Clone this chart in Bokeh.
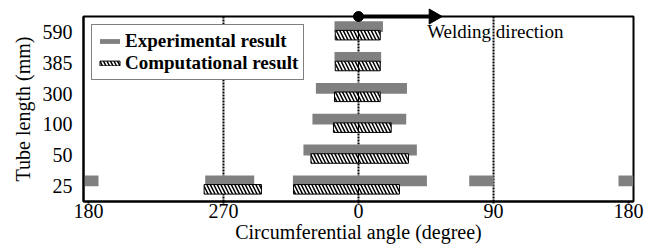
import math
from bokeh.plotting import figure
from bokeh.models import (Range1d, FixedTicker, Span, Label, Legend, LegendItem, ColumnDataSource)
from bokeh.embed import file_html
from bokeh.resources import INLINE

# ---- data ----
lengths = ["25", "50", "100", "300", "385", "590"]          # tube length (mm)
exp_neg = [-43.7, -36.7, -30.7, -28.4, -16.0, -16.0]          # experimental, left extent (deg)
exp_pos = [45.6, 38.9, 31.8, 32.3, 15.1, 16.3]                # experimental, right extent (deg)
comp_neg = [-43.3, -31.7, -16.7, -16.0, -15.5, -15.5]         # computational, left extent
comp_pos = [27.3, 33.3, 21.8, 14.5, 14.5, 14.5]               # computational, right extent

# additional separate zones (tube length, start, end); end > 180 wraps past 180
exp_extra_len = ["25", "25", "25"]
exp_extra_start = [-102.2, 73.8, 173.3]
exp_extra_end = [-69.5, 90.0, 186.7]
comp_extra_len = ["25"]
comp_extra_start = [-102.9]
comp_extra_end = [-64.7]

angle_ticks = [-180, -90, 0, 90, 180]
angle_labels = ["180", "270", "0", "90", "180"]
ref_angles = [-90, 0, 90]
weld_start = 0
weld_end = 50

# ---- build sources ----
ypos = {name: i + 0.5 for i, name in enumerate(lengths)}
EXP_OFF, EXP_H = 0.17, 0.35
COMP_OFF, COMP_H = -0.105, 0.31

ex = dict(y=[], left=[], right=[])
for name, a, b in zip(lengths, exp_neg, exp_pos):
    ex["y"].append(ypos[name] + EXP_OFF); ex["left"].append(a); ex["right"].append(b)
for name, a, b in zip(exp_extra_len, exp_extra_start, exp_extra_end):
    ex["y"].append(ypos[name] + EXP_OFF); ex["left"].append(a); ex["right"].append(b)
    if b > 180:
        ex["y"].append(ypos[name] + EXP_OFF); ex["left"].append(a - 360); ex["right"].append(b - 360)

cp = dict(y=[], left=[], right=[])
for name, a, b in zip(lengths, comp_neg, comp_pos):
    cp["y"] += [ypos[name] + COMP_OFF, ypos[name] + COMP_OFF]
    cp["left"] += [a, 0]
    cp["right"] += [0, b]
for name, a, b in zip(comp_extra_len, comp_extra_start, comp_extra_end):
    cp["y"].append(ypos[name] + COMP_OFF); cp["left"].append(a); cp["right"].append(b)

FONT = "Liberation Serif"
TOP = len(lengths)

p = figure(width=655, height=251, x_range=Range1d(-183.3, 183.3), y_range=Range1d(0, TOP),
           output_backend="svg", toolbar_location=None,
           min_border_left=83, min_border_right=22, min_border_top=16, min_border_bottom=50)

for a in ref_angles:
    p.add_layout(Span(location=a, dimension="height", line_color="black", line_width=2,
                      line_dash="2 1", level="underlay"))

r_exp = p.hbar(y="y", left="left", right="right", height=EXP_H, source=ColumnDataSource(ex),
               fill_color="#808080", line_color=None)
r_comp = p.hbar(y="y", left="left", right="right", height=COMP_H, source=ColumnDataSource(cp),
                fill_color="white", line_color="black", line_width=1,
                hatch_pattern="\\", hatch_color="black", hatch_scale=7, hatch_weight=1.5)

# welding direction arrow (drawn above the frame edge, so at overlay level)
p.segment(x0=[weld_start], y0=[TOP], x1=[weld_end], y1=[TOP], line_width=4,
          line_color="black", level="overlay")
p.scatter(x=[weld_end], y=[TOP], marker="triangle", angle=-math.pi / 2, size=15,
          color="black", level="overlay")
p.scatter(x=[weld_start], y=[TOP], size=10, color="black", level="overlay")
p.add_layout(Label(x=45.8, y=TOP, text="Welding direction", text_baseline="top",
                   y_offset=-4, text_font=FONT, text_font_size="19px", text_color="black"))

legend = Legend(items=[LegendItem(label="Experimental result", renderers=[r_exp]),
                       LegendItem(label="Computational result", renderers=[r_comp])],
                location="top_left", margin=8, padding=5, spacing=0,
                glyph_width=25, glyph_height=6, label_height=20, label_standoff=3,
                label_text_font=FONT, label_text_font_size="19px", label_text_font_style="bold",
                label_text_color="black", border_line_color="black", border_line_width=1,
                background_fill_color="white", background_fill_alpha=1)
p.add_layout(legend)

p.xgrid.visible = False
p.ygrid.visible = False
p.outline_line_color = "black"
p.outline_line_width = 2

p.xaxis.ticker = FixedTicker(ticks=angle_ticks)
p.xaxis.major_label_overrides = {t: l for t, l in zip(angle_ticks, angle_labels)}
p.xaxis.axis_label = "Circumferential angle (degree)"
p.xaxis.major_tick_out = 2
p.xaxis.major_tick_in = 0
p.xaxis.major_label_standoff = 0
p.xaxis.axis_label_standoff = 0

p.yaxis.ticker = FixedTicker(ticks=[ypos[n] for n in lengths])
p.yaxis.major_label_overrides = {ypos[n]: n for n in lengths}
p.yaxis.axis_label = "Tube length (mm)"
p.yaxis.major_tick_out = 0
p.yaxis.major_tick_in = 0
p.yaxis.major_label_standoff = 11
p.yaxis.axis_label_standoff = 6

for ax in (p.xaxis, p.yaxis):
    ax.minor_tick_line_color = None
    ax.axis_line_color = "black"
    ax.axis_line_width = 2
    ax.major_tick_line_color = "black"
    ax.major_tick_line_width = 2
    ax.major_label_text_font = FONT
    ax.major_label_text_font_size = "20px"
    ax.major_label_text_color = "black"
    ax.axis_label_text_font = FONT
    ax.axis_label_text_font_size = "20px"
    ax.axis_label_text_font_style = "normal"
    ax.axis_label_text_color = "black"

open("out.html", "w").write(file_html(p, INLINE))
